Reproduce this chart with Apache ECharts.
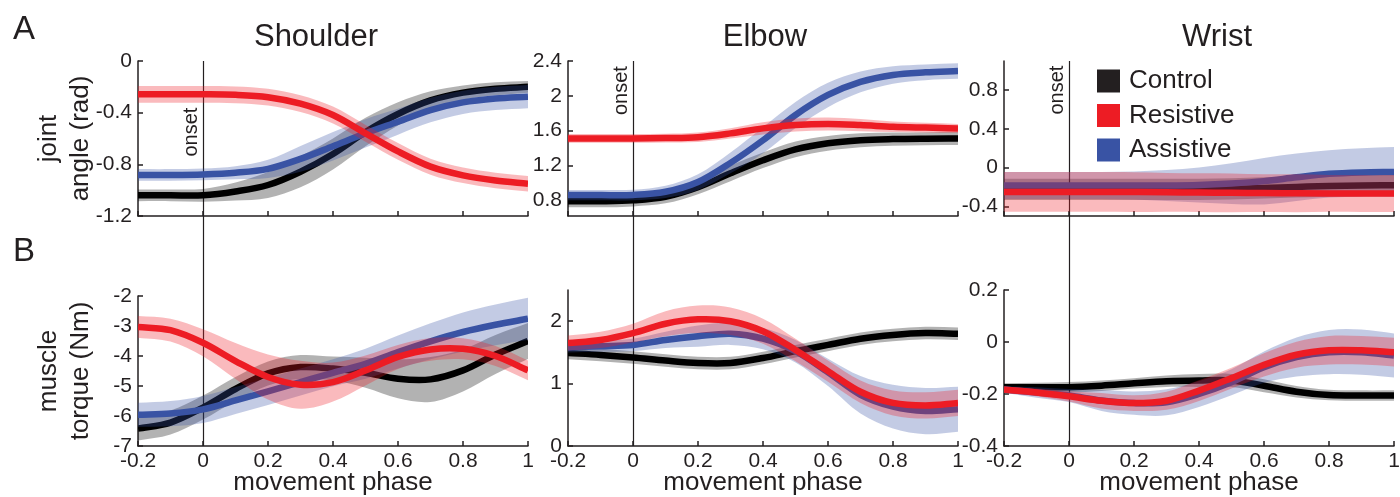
<!DOCTYPE html>
<html>
<head>
<meta charset="utf-8">
<script src="https://cdn.jsdelivr.net/npm/echarts@6/dist/echarts.min.js"></script>
<style>
html,body{margin:0;padding:0;background:#ffffff;}
#chart{width:1400px;height:497px;}
</style>
</head>
<body>
<div id="chart"></div>
<script>
// ---------------- DATA ----------------
const phase = [-0.2, -0.1, 0, 0.1, 0.2, 0.3, 0.4, 0.5, 0.6, 0.7, 0.8, 0.9, 1.0];
const groups = ['Control', 'Resistive', 'Assistive'];
const joints = ['Shoulder', 'Elbow', 'Wrist'];

// A: joint angle (rad) — mean and band half-width
const shoulderAngleControl   = [-1.04, -1.04, -1.04, -1.01, -0.96, -0.857, -0.72, -0.55, -0.41, -0.305, -0.245, -0.215, -0.20];
const shoulderAngleControlSd = [0.045, 0.045, 0.05, 0.07, 0.10, 0.12, 0.12, 0.11, 0.09, 0.07, 0.055, 0.05, 0.045];
const shoulderAngleResist    = [-0.258, -0.258, -0.258, -0.262, -0.28, -0.33, -0.418, -0.56, -0.70, -0.818, -0.885, -0.925, -0.95];
const shoulderAngleResistSd  = [0.065, 0.065, 0.065, 0.065, 0.065, 0.065, 0.065, 0.065, 0.065, 0.062, 0.06, 0.06, 0.06];
const shoulderAngleAssist    = [-0.882, -0.882, -0.878, -0.865, -0.835, -0.758, -0.66, -0.56, -0.47, -0.38, -0.32, -0.29, -0.276];
const shoulderAngleAssistSd  = [0.045, 0.045, 0.045, 0.05, 0.07, 0.10, 0.11, 0.11, 0.10, 0.095, 0.09, 0.09, 0.09];

const elbowAngleControl   = [0.79, 0.79, 0.80, 0.84, 0.95, 1.11, 1.26, 1.385, 1.455, 1.49, 1.503, 1.508, 1.51];
const elbowAngleControlSd = [0.07, 0.07, 0.07, 0.075, 0.08, 0.09, 0.09, 0.09, 0.085, 0.08, 0.075, 0.075, 0.075];
const elbowAngleResist    = [1.511, 1.511, 1.511, 1.515, 1.525, 1.569, 1.626, 1.664, 1.676, 1.664, 1.645, 1.635, 1.626];
const elbowAngleResistSd  = [0.05, 0.05, 0.05, 0.05, 0.055, 0.06, 0.07, 0.075, 0.075, 0.07, 0.06, 0.055, 0.05];
const elbowAngleAssist    = [0.86, 0.86, 0.862, 0.898, 1.01, 1.23, 1.49, 1.78, 2.01, 2.16, 2.24, 2.27, 2.285];
const elbowAngleAssistSd  = [0.06, 0.06, 0.06, 0.07, 0.09, 0.12, 0.15, 0.15, 0.14, 0.12, 0.10, 0.09, 0.09];

const wristAngleControl   = [-0.225, -0.225, -0.225, -0.225, -0.225, -0.225, -0.225, -0.22, -0.21, -0.20, -0.19, -0.185, -0.183];
const wristAngleControlSd = [0.11, 0.11, 0.11, 0.11, 0.11, 0.11, 0.11, 0.11, 0.11, 0.11, 0.11, 0.11, 0.11];
const wristAngleResist    = [-0.252, -0.252, -0.252, -0.252, -0.253, -0.255, -0.258, -0.26, -0.263, -0.265, -0.267, -0.268, -0.268];
const wristAngleResistSd  = [0.205, 0.205, 0.205, 0.205, 0.205, 0.20, 0.20, 0.20, 0.195, 0.195, 0.19, 0.19, 0.19];
const wristAngleAssist    = [-0.185, -0.185, -0.185, -0.185, -0.185, -0.185, -0.18, -0.165, -0.14, -0.10, -0.065, -0.05, -0.045];
const wristAngleAssistSd  = [0.14, 0.14, 0.14, 0.14, 0.145, 0.16, 0.18, 0.21, 0.24, 0.245, 0.245, 0.25, 0.258];

// B: muscle torque (Nm)
const shoulderTorqueControl   = [-6.42, -6.22, -5.72, -5.10, -4.58, -4.37, -4.42, -4.56, -4.76, -4.78, -4.48, -3.95, -3.50];
const shoulderTorqueControlSd = [0.40, 0.40, 0.40, 0.40, 0.40, 0.40, 0.40, 0.50, 0.65, 0.75, 0.70, 0.65, 0.60];
const shoulderTorqueResist    = [-3.03, -3.14, -3.56, -4.17, -4.70, -4.96, -4.87, -4.48, -4.03, -3.78, -3.76, -4.00, -4.48];
const shoulderTorqueResistSd  = [0.36, 0.38, 0.45, 0.60, 0.75, 0.80, 0.65, 0.50, 0.40, 0.38, 0.35, 0.33, 0.33];
const shoulderTorqueAssist    = [-5.96, -5.92, -5.78, -5.48, -5.18, -4.87, -4.56, -4.26, -3.87, -3.51, -3.20, -2.96, -2.76];
const shoulderTorqueAssistSd  = [0.40, 0.42, 0.45, 0.45, 0.45, 0.45, 0.45, 0.50, 0.55, 0.60, 0.65, 0.68, 0.70];

const elbowTorqueControl   = [1.49, 1.46, 1.42, 1.37, 1.33, 1.33, 1.41, 1.52, 1.62, 1.72, 1.78, 1.81, 1.80];
const elbowTorqueControlSd = [0.10, 0.10, 0.10, 0.10, 0.10, 0.10, 0.10, 0.10, 0.10, 0.10, 0.10, 0.10, 0.10];
const elbowTorqueResist    = [1.65, 1.70, 1.81, 1.96, 2.03, 2.00, 1.84, 1.54, 1.20, 0.87, 0.69, 0.65, 0.69];
const elbowTorqueResistSd  = [0.12, 0.13, 0.15, 0.20, 0.22, 0.22, 0.20, 0.18, 0.17, 0.18, 0.20, 0.21, 0.21];
const elbowTorqueAssist    = [1.58, 1.60, 1.62, 1.70, 1.76, 1.80, 1.72, 1.52, 1.18, 0.82, 0.63, 0.56, 0.59];
const elbowTorqueAssistSd  = [0.08, 0.09, 0.10, 0.13, 0.17, 0.18, 0.17, 0.18, 0.22, 0.30, 0.35, 0.37, 0.36];

const wristTorqueControl   = [-0.174, -0.174, -0.174, -0.168, -0.159, -0.151, -0.148, -0.148, -0.168, -0.191, -0.204, -0.206, -0.206];
const wristTorqueControlSd = [0.015, 0.017, 0.02, 0.02, 0.02, 0.022, 0.025, 0.025, 0.025, 0.022, 0.02, 0.02, 0.02];
const wristTorqueResist    = [-0.183, -0.194, -0.209, -0.226, -0.235, -0.226, -0.187, -0.139, -0.088, -0.049, -0.032, -0.032, -0.039];
const wristTorqueResistSd  = [0.012, 0.015, 0.02, 0.03, 0.03, 0.035, 0.04, 0.04, 0.045, 0.05, 0.055, 0.055, 0.055];
const wristTorqueAssist    = [-0.183, -0.194, -0.206, -0.225, -0.235, -0.232, -0.20, -0.155, -0.097, -0.058, -0.039, -0.039, -0.052];
const wristTorqueAssistSd  = [0.012, 0.02, 0.025, 0.04, 0.045, 0.05, 0.05, 0.05, 0.06, 0.075, 0.085, 0.087, 0.085];

// axis ranges and tick labels
const yMin = [-1.2, 0.62, -0.5, -7, 0, -0.4];
const yMax = [0, 2.4, 1.1, -2, 2.5, 0.2];
const yTicks = [
  [-1.2, -0.8, -0.4, 0],
  [0.8, 1.2, 1.6, 2, 2.4],
  [-0.4, 0, 0.4, 0.8],
  [-7, -6, -5, -4, -3, -2],
  [0, 1, 2],
  [-0.4, -0.2, 0, 0.2]
];
const yNames = ['joint\nangle (rad)', 'muscle\ntorque (Nm)'];
const xName = 'movement phase';
const onsetText = 'onset';
const onsetLabelAt = [-0.55, 2.06, 0.80];

// ---------------- STYLE / LAYOUT ----------------
const FONT = "'Liberation Sans', Arial, Helvetica, sans-serif";
const INK = '#231f20';
const lineColor = { Control: '#000000', Resistive: '#ed1c24', Assistive: '#3953a4' };
const legendColor = { Control: '#231f20', Resistive: '#ed1c24', Assistive: '#3953a4' };
const bandColor = { Control: 'rgba(0,0,0,0.3)', Resistive: 'rgba(237,28,36,0.3)', Assistive: 'rgba(57,83,164,0.3)' };
const gridBoxes = [
  { left: 138, top: 61, width: 390, height: 155 },
  { left: 568, top: 61, width: 390, height: 155 },
  { left: 1004, top: 61, width: 390, height: 155 },
  { left: 138, top: 296, width: 390, height: 150 },
  { left: 568, top: 290, width: 390, height: 156 },
  { left: 1004, top: 290, width: 390, height: 156 }
];
const titleCenters = [316, 765, 1217];

const panels = [
  { Control: [shoulderAngleControl, shoulderAngleControlSd], Resistive: [shoulderAngleResist, shoulderAngleResistSd], Assistive: [shoulderAngleAssist, shoulderAngleAssistSd] },
  { Control: [elbowAngleControl, elbowAngleControlSd], Resistive: [elbowAngleResist, elbowAngleResistSd], Assistive: [elbowAngleAssist, elbowAngleAssistSd] },
  { Control: [wristAngleControl, wristAngleControlSd], Resistive: [wristAngleResist, wristAngleResistSd], Assistive: [wristAngleAssist, wristAngleAssistSd] },
  { Control: [shoulderTorqueControl, shoulderTorqueControlSd], Resistive: [shoulderTorqueResist, shoulderTorqueResistSd], Assistive: [shoulderTorqueAssist, shoulderTorqueAssistSd] },
  { Control: [elbowTorqueControl, elbowTorqueControlSd], Resistive: [elbowTorqueResist, elbowTorqueResistSd], Assistive: [elbowTorqueAssist, elbowTorqueAssistSd] },
  { Control: [wristTorqueControl, wristTorqueControlSd], Resistive: [wristTorqueResist, wristTorqueResistSd], Assistive: [wristTorqueAssist, wristTorqueAssistSd] }
];

// Cubic Hermite (Catmull-Rom) path through pixel points given by the axes
function smoothSegments(pts) {
  const n = pts.length;
  let d = '';
  for (let i = 0; i < n - 1; i++) {
    const p0 = pts[Math.max(i - 1, 0)], p1 = pts[i], p2 = pts[i + 1], p3 = pts[Math.min(i + 2, n - 1)];
    const k1 = (i === 0) ? 3 : 6, k2 = (i + 1 === n - 1) ? 3 : 6;
    const c1 = [p1[0] + (p2[0] - p0[0]) / k1, p1[1] + (p2[1] - p0[1]) / k1];
    const c2 = [p2[0] - (p3[0] - p1[0]) / k2, p2[1] - (p3[1] - p1[1]) / k2];
    d += ' C' + c1[0] + ',' + c1[1] + ' ' + c2[0] + ',' + c2[1] + ' ' + p2[0] + ',' + p2[1];
  }
  return d;
}

function bandSeries(idx, name, mean, sd, z) {
  return {
    type: 'custom', name: name + ' band', xAxisIndex: idx, yAxisIndex: idx, silent: true, z: z, clip: true,
    data: [[phase[0], mean[0]]],
    encode: { x: 0, y: 1 },
    renderItem: function (params, api) {
      const up = phase.map((x, i) => api.coord([x, mean[i] + sd[i]]));
      const lo = phase.map((x, i) => api.coord([x, mean[i] - sd[i]])).reverse();
      const d = 'M' + up[0][0] + ',' + up[0][1] + smoothSegments(up) +
        ' L' + lo[0][0] + ',' + lo[0][1] + smoothSegments(lo) + ' Z';
      return { type: 'path', shape: { pathData: d }, style: { fill: bandColor[name], stroke: null } };
    }
  };
}

function meanSeries(idx, name, mean, z) {
  return {
    type: 'custom', name: name, xAxisIndex: idx, yAxisIndex: idx, silent: true, z: z, clip: true,
    data: [[phase[0], mean[0]]],
    encode: { x: 0, y: 1 },
    itemStyle: { color: legendColor[name] },
    renderItem: function (params, api) {
      const pts = phase.map((x, i) => api.coord([x, mean[i]]));
      const d = 'M' + pts[0][0] + ',' + pts[0][1] + smoothSegments(pts);
      return { type: 'path', shape: { pathData: d }, style: { fill: null, stroke: lineColor[name], lineWidth: 6.5 } };
    }
  };
}

const fmt = v => String(Math.round(v * 100) / 100);

const series = [];
const drawOrder = ['Control', 'Assistive', 'Resistive'];
panels.forEach((p, idx) => {
  drawOrder.forEach((g, k) => {
    series.push(bandSeries(idx, g, p[g][0], p[g][1], 2 + 2 * k));
    series.push(meanSeries(idx, g, p[g][0], 3 + 2 * k));
  });
});

const grid = gridBoxes.map(b => Object.assign({ containLabel: false, outerBoundsMode: 'none' }, b));

const xAxis = gridBoxes.map((b, i) => ({
  type: 'value', gridIndex: i, min: -0.2, max: 1, interval: 0.2,
  axisLine: { show: true, onZero: false, lineStyle: { color: INK, width: 1.5 } },
  axisTick: { show: true, inside: true, length: 5, lineStyle: { color: INK, width: 1.5 } },
  splitLine: { show: false },
  axisLabel: { show: i >= 3, formatter: fmt, color: INK, fontSize: 21, fontFamily: FONT, margin: 5 },
  name: i >= 3 ? xName : '',
  nameLocation: 'middle', nameGap: 24, nameMoveOverlap: false,
  nameTextStyle: { fontSize: 26, color: INK, fontFamily: FONT }
}));

const yAxis = gridBoxes.map((b, i) => ({
  type: 'value', gridIndex: i, min: yMin[i], max: yMax[i],
  axisLine: { show: true, onZero: false, lineStyle: { color: INK, width: 1.5 } },
  axisTick: { show: true, inside: true, length: 5, customValues: yTicks[i], lineStyle: { color: INK, width: 1.5 } },
  splitLine: { show: false },
  axisLabel: { customValues: yTicks[i], formatter: fmt, color: INK, fontSize: 21, fontFamily: FONT, margin: 6 },
  name: (i === 0) ? yNames[0] : (i === 3 ? yNames[1] : ''),
  nameLocation: 'middle', nameGap: 41, nameRotate: 90, nameMoveOverlap: false,
  nameTextStyle: { fontSize: 26, lineHeight: 32, color: INK, fontFamily: FONT }
}));

const title = joints.map((j, i) => ({
  text: j, left: titleCenters[i], top: 37, textAlign: 'center', textVerticalAlign: 'middle', padding: 0,
  textStyle: { fontSize: 31, fontWeight: 'normal', color: INK, fontFamily: FONT }
}));

const chart = echarts.init(document.getElementById('chart'), null, { renderer: 'canvas' });
chart.setOption({
  animation: false,
  backgroundColor: '#ffffff',
  title: title,
  legend: {
    orient: 'vertical', left: 1097, top: 68, itemWidth: 23, itemHeight: 23, itemGap: 8.5, padding: 0,
    icon: 'rect', selectedMode: false,
    data: groups.map(g => ({ name: g, icon: 'rect', itemStyle: { color: legendColor[g] } })),
    textStyle: { fontSize: 26, color: INK, fontFamily: FONT, padding: [0, 0, 0, 4] }
  },
  grid: grid, xAxis: xAxis, yAxis: yAxis, series: series
});

// onset line & labels and panel letters, positioned through the axes
const graphics = [];
for (let c = 0; c < 3; c++) {
  const top = chart.convertToPixel({ xAxisIndex: c, yAxisIndex: c }, [0, yMax[c]]);
  const bot = chart.convertToPixel({ xAxisIndex: c + 3, yAxisIndex: c + 3 }, [0, yMin[c + 3]]);
  graphics.push({ type: 'line', z: 1, silent: true,
    shape: { x1: Math.round(top[0]) + 0.5, y1: top[1], x2: Math.round(bot[0]) + 0.5, y2: bot[1] },
    style: { stroke: INK, lineWidth: 1.2 } });
  const lab = chart.convertToPixel({ xAxisIndex: c, yAxisIndex: c }, [0, onsetLabelAt[c]]);
  graphics.push({ type: 'text', z: 10, silent: true, x: lab[0] - 1.5, y: lab[1], rotation: Math.PI / 2,
    style: { text: onsetText, fontSize: 20, fontFamily: FONT, fill: INK, align: 'center', verticalAlign: 'bottom' } });
}
graphics.push({ type: 'text', x: 24, y: 30, silent: true,
  style: { text: 'A', fontSize: 33, fontFamily: FONT, fill: INK, align: 'center', verticalAlign: 'middle' } });
graphics.push({ type: 'text', x: 24, y: 252, silent: true,
  style: { text: 'B', fontSize: 33, fontFamily: FONT, fill: INK, align: 'center', verticalAlign: 'middle' } });
chart.setOption({ graphic: graphics });
</script>
</body>
</html>
